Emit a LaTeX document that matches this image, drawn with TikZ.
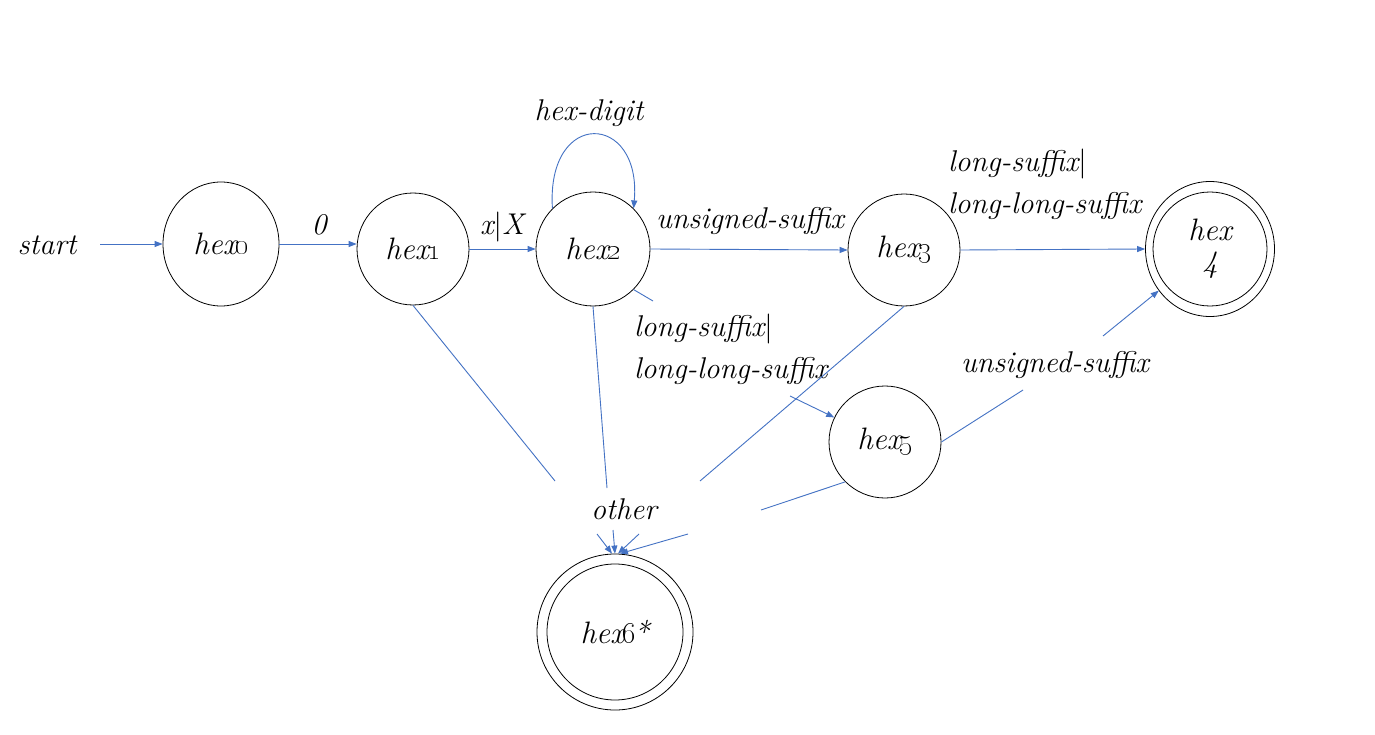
\documentclass[tikz,border=0pt]{standalone}
\usetikzlibrary{arrows.meta,shapes.geometric}
\definecolor{edgeblue}{HTML}{4472C4}
\newcommand{\vbar}{{\upshape|}}
\newcommand{\osn}[1]{\kern-1.5pt\oldstylenums{#1}}
\begin{document}
\begin{tikzpicture}[x=1pt,y=-1pt,
  st/.style={draw=black, line width=0.8pt, circle, inner sep=0pt, minimum size=112pt,
             font=\fontsize{31}{32}\selectfont\itshape},
  lbl/.style={font=\fontsize{30}{42}\selectfont\itshape, inner sep=0pt},
  ed/.style={draw=edgeblue, line width=0.9pt},
  ar/.style={ed, -{Triangle[length=8pt,width=6pt]}}]
\useasboundingbox[fill=white] (0,0) rectangle (1375,735);

% states
\node[st, ellipse, minimum width=116pt, minimum height=124pt] (h0) at (221,244) {hex\osn{0}};
\node[st] (h1) at (413,249) {hex\osn{1}};
\node[st, minimum size=114pt] (h2) at (593,249) {hex\osn{2}};
\node[st] (h3) at (904,250) {hex\osn{3}};
\node[st, ellipse, minimum width=129pt, minimum height=135pt, align=center] (h4) at (1210,249) {hex\\4};
\draw[line width=0.8pt] (h4.center) circle[radius=57pt];
\node[st] (h5) at (885,442) {hex\osn{5}};
\node[st, minimum size=156pt] (h6) at (615,632) {hex\osn{6}\kern-2pt*};
\draw[line width=0.8pt] (h6.center) circle[radius=68pt];

% labels
\node[lbl] (start) at (47,245) {start};
\node[lbl] (l0) at (319,225) {0};
\node[lbl] (lx) at (502,227) {x\vbar X};
\node[lbl] (ldig) at (589,113) {hex-digit};
\node[lbl] (lu1) at (750,221) {unsigned-suffix};
\node[lbl, align=left, anchor=west] (ll1) at (948,184) {long-suffix\vbar\\long-long-suffix};
\node[lbl, align=left, anchor=west] (ll2) at (634,349) {long-suffix\vbar\\long-long-suffix};
\node[lbl] (lu2) at (1055,365) {unsigned-suffix};
\node[lbl] (loth) at (624,509) {other};

% break coordinates
\coordinate (s0) at (100,244);
\coordinate (a1) at (653,301);
\coordinate (a2) at (790,396);
\coordinate (b1) at (1023,390);
\coordinate (b2) at (1103,336);
\coordinate (o1) at (555,481);
\coordinate (o2) at (607,488);
\coordinate (o3) at (700,481);
\coordinate (o4) at (761,510);
\coordinate (p1) at (597,534);
\coordinate (p2) at (613,530);
\coordinate (p3) at (639,534);
\coordinate (p4) at (688,534);

% transitions
\draw[ar] (s0) -- (s0 -| h0.west);
\draw[ar] (h0.east) -- (h0.east -| h1.west);
\draw[ar] (h1.east) -- (h2.west);
\draw[ar] (h2.135) .. controls (546,108) and (642,112) .. (h2.45);
\draw[ar] (h2.east) -- (h3.west);
\draw[ar] (h3.east) -- (h4.west);
\draw[ed] (h2.-45) -- (a1);
\draw[ar] (a2) -- (h5);
\draw[ed] (h5.east) -- (b1);
\draw[ar] (b2) -- (h4);
\draw[ed] (h1.south) -- (o1);
\draw[ed] (h2.south) -- (o2);
\draw[ed] (h3.south) -- (o3);
\draw[ed] (h5.225) -- (o4);
\draw[ar] (p1) -- ([xshift=-3pt]h6.north);
\draw[ar] (p2) -- (h6.north);
\draw[ar] (p3) -- ([xshift=3pt]h6.north);
\draw[ar] (p4) -- ([xshift=5pt]h6.north);
\end{tikzpicture}
\end{document}
